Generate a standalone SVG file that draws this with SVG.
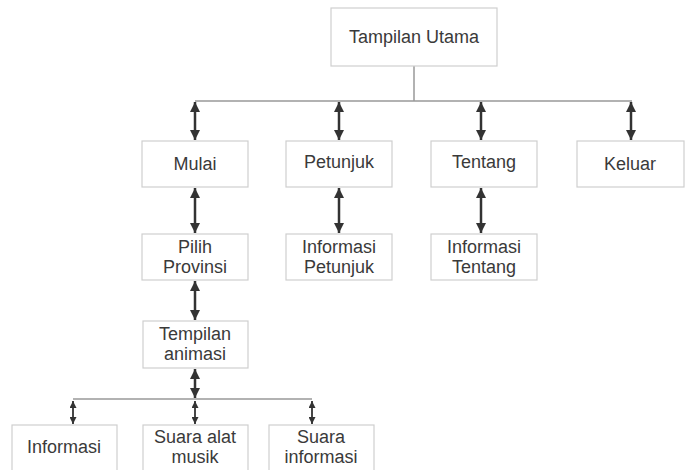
<svg xmlns="http://www.w3.org/2000/svg" width="688" height="470" viewBox="0 0 688 470">
  <style>
    .box rect { fill: #ffffff; stroke: #cfcfcf; stroke-width: 1.2; }
    .box text { font-family: "Liberation Sans", Arial, sans-serif; font-size: 18px; fill: #3a3a3a; text-anchor: middle; }
    .rail { stroke: #999999; stroke-width: 1.5; fill: none; }
    .arr { stroke: #333333; stroke-width: 2.5; fill: none; marker-start: url(#headUp); marker-end: url(#headDown); }
    .arr-s { stroke: #333333; stroke-width: 1.8; fill: none; marker-start: url(#headUpS); marker-end: url(#headDownS); }
  </style>
  <defs>
    <marker id="headDown" viewBox="0 0 10 10" refX="5" refY="10" markerWidth="10" markerHeight="10" markerUnits="userSpaceOnUse" orient="0">
      <path d="M0,0 L10,0 L5,10 Z" fill="#333333"/>
    </marker>
    <marker id="headUp" viewBox="0 0 10 10" refX="5" refY="0" markerWidth="10" markerHeight="10" markerUnits="userSpaceOnUse" orient="0">
      <path d="M0,10 L10,10 L5,0 Z" fill="#333333"/>
    </marker>
    <marker id="headDownS" viewBox="0 0 10 10" refX="5" refY="10" markerWidth="7" markerHeight="7" markerUnits="userSpaceOnUse" orient="0">
      <path d="M0,0 L10,0 L5,10 Z" fill="#333333"/>
    </marker>
    <marker id="headUpS" viewBox="0 0 10 10" refX="5" refY="0" markerWidth="7" markerHeight="7" markerUnits="userSpaceOnUse" orient="0">
      <path d="M0,10 L10,10 L5,0 Z" fill="#333333"/>
    </marker>
  </defs>

  <g id="connectors">
    <!-- top rail -->
    <line class="rail" x1="414" y1="66" x2="414" y2="101"/>
    <line class="rail" x1="195" y1="101" x2="632" y2="101"/>
    <line class="arr" x1="195" y1="102" x2="195" y2="140"/>
    <line class="arr" x1="339" y1="102" x2="339" y2="140"/>
    <line class="arr" x1="481" y1="102" x2="481" y2="140"/>
    <line class="arr" x1="631" y1="102" x2="631" y2="140"/>
    <!-- second level -->
    <line class="arr" x1="195" y1="188" x2="195" y2="233"/>
    <line class="arr" x1="339" y1="188" x2="339" y2="233"/>
    <line class="arr" x1="481" y1="188" x2="481" y2="233"/>
    <line class="arr" x1="195" y1="281" x2="195" y2="320"/>
    <!-- bottom rail -->
    <line class="arr" x1="195" y1="369" x2="195" y2="398"/>
    <line class="rail" x1="73" y1="399" x2="312" y2="399"/>
    <line class="arr-s" x1="73" y1="401" x2="73" y2="424"/>
    <line class="arr-s" x1="195" y1="401" x2="195" y2="424"/>
    <line class="arr-s" x1="312" y1="401" x2="312" y2="424"/>
  </g>

  <g id="tampilan-utama" class="box">
    <rect x="331" y="8" width="166" height="58"/>
    <text x="414" y="43">Tampilan Utama</text>
  </g>
  <g id="mulai" class="box">
    <rect x="142" y="141" width="106" height="46"/>
    <text x="195" y="170">Mulai</text>
  </g>
  <g id="petunjuk" class="box">
    <rect x="286" y="141" width="106" height="46"/>
    <text x="339" y="168">Petunjuk</text>
  </g>
  <g id="tentang" class="box">
    <rect x="431" y="141" width="106" height="46"/>
    <text x="484" y="168">Tentang</text>
  </g>
  <g id="keluar" class="box">
    <rect x="577" y="141" width="107" height="46"/>
    <text x="630" y="170">Keluar</text>
  </g>
  <g id="pilih-provinsi" class="box">
    <rect x="142" y="234" width="106" height="46"/>
    <text x="195" y="253">Pilih</text>
    <text x="195" y="273">Provinsi</text>
  </g>
  <g id="informasi-petunjuk" class="box">
    <rect x="286" y="234" width="106" height="46"/>
    <text x="339" y="253">Informasi</text>
    <text x="339" y="273">Petunjuk</text>
  </g>
  <g id="informasi-tentang" class="box">
    <rect x="431" y="234" width="106" height="46"/>
    <text x="484" y="253">Informasi</text>
    <text x="484" y="273">Tentang</text>
  </g>
  <g id="tempilan-animasi" class="box">
    <rect x="143" y="321" width="105" height="47"/>
    <text x="195" y="340">Tempilan</text>
    <text x="195" y="360">animasi</text>
  </g>
  <g id="informasi" class="box">
    <rect x="12" y="425" width="105" height="50"/>
    <text x="64" y="453">Informasi</text>
  </g>
  <g id="suara-alat-musik" class="box">
    <rect x="143" y="425" width="105" height="50"/>
    <text x="195" y="443">Suara alat</text>
    <text x="195" y="463">musik</text>
  </g>
  <g id="suara-informasi" class="box">
    <rect x="269" y="425" width="105" height="50"/>
    <text x="321" y="443">Suara</text>
    <text x="321" y="463">informasi</text>
  </g>
</svg>
